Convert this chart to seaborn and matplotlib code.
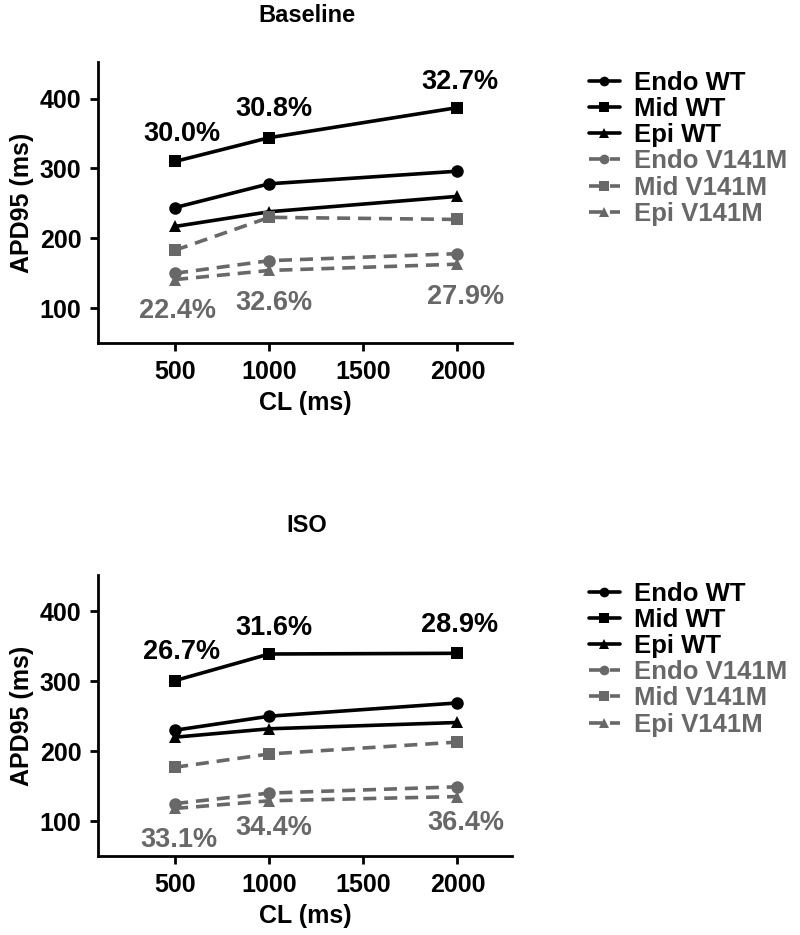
import pandas as pd
import matplotlib
matplotlib.use("Agg")
import matplotlib.pyplot as plt
import seaborn as sns

sns.set_style("ticks", {"axes.edgecolor": "black", "text.color": "black",
                        "axes.labelcolor": "black", "xtick.color": "black",
                        "ytick.color": "black"})
plt.rcParams["font.family"] = ["Liberation Sans", "DejaVu Sans"]
plt.rcParams["font.weight"] = "bold"

# data
cl = [500, 1000, 2000]
groups = ["Endo WT", "Mid WT", "Epi WT", "Endo V141M", "Mid V141M", "Epi V141M"]

base_endo_wt = [244, 278, 296]
base_mid_wt = [310, 344, 387]
base_epi_wt = [217, 238, 260]
base_endo_v = [150, 168, 178]
base_mid_v = [183, 230, 227]
base_epi_v = [141, 154, 163]
base_wt_pct = ["30.0%", "30.8%", "32.7%"]
base_v_pct = ["22.4%", "32.6%", "27.9%"]

iso_endo_wt = [230, 250, 269]
iso_mid_wt = [301, 339, 340]
iso_epi_wt = [220, 232, 241]
iso_endo_v = [125, 140, 149]
iso_mid_v = [177, 196, 213]
iso_epi_v = [118, 129, 135]
iso_wt_pct = ["26.7%", "31.6%", "28.9%"]
iso_v_pct = ["33.1%", "34.4%", "36.4%"]

GRAY = "#686868"
palette = {g: ("black" if "WT" in g else GRAY) for g in groups}
markers = {"Endo WT": "o", "Mid WT": "s", "Epi WT": "^",
           "Endo V141M": "o", "Mid V141M": "s", "Epi V141M": "^"}
dashes = {g: ("" if "WT" in g else (3.6, 2.2)) for g in groups}


def make_df(series):
    rows = []
    for g, vals in zip(groups, series):
        for x, v in zip(cl, vals):
            rows.append({"CL": x, "APD": v, "group": g})
    return pd.DataFrame(rows)


base_df = make_df([base_endo_wt, base_mid_wt, base_epi_wt, base_endo_v, base_mid_v, base_epi_v])
iso_df = make_df([iso_endo_wt, iso_mid_wt, iso_epi_wt, iso_endo_v, iso_mid_v, iso_epi_v])

fig = plt.figure(figsize=(8, 9.35), dpi=100)
ax1 = fig.add_axes([0.1225, 0.633, 0.5175, 0.3005])
ax2 = fig.add_axes([0.1225, 0.0845, 0.5175, 0.3005])

panels = [
    (ax1, base_df, "Baseline", 16, base_wt_pct, base_v_pct,
     [(182, 134), (274, 109), (460, 82)], [(178, 311), (274, 303), (466, 297)], 0.9375),
    (ax2, iso_df, "ISO", 525, iso_wt_pct, iso_v_pct,
     [(182, 652), (274, 628), (460, 625)], [(179, 840), (274, 828), (466, 823)], 0.391),
]

for ax, df, title, title_y, wt_pct, v_pct, wt_pos, v_pos, leg_y in panels:
    sns.lineplot(data=df, x="CL", y="APD", hue="group", style="group",
                 palette=palette, markers=markers, dashes=dashes,
                 hue_order=groups, style_order=groups,
                 markersize=9, linewidth=2.6, markeredgewidth=0, ax=ax)
    ax.set_xlim(90, 2290)
    ax.set_ylim(50, 452)
    ax.set_xticks([500, 1000, 1500, 2000])
    ax.set_yticks([100, 200, 300, 400])
    ax.tick_params(labelsize=18, width=2, length=6, direction="out", pad=6,
                   colors="black")
    for lab in ax.get_xticklabels() + ax.get_yticklabels():
        lab.set_fontweight("bold")
    sns.despine(ax=ax)
    for s in ["left", "bottom"]:
        ax.spines[s].set_linewidth(2)
        ax.spines[s].set_color("black")
    ax.set_xlabel("CL (ms)", fontsize=18, fontweight="bold", labelpad=5, color="black")
    ax.set_ylabel("APD95 (ms)", fontsize=18, fontweight="bold", labelpad=4, color="black")

    fig.text(307 / 800, 1 - title_y / 935, title, ha="center", va="center",
             fontsize=17, fontweight="bold", color="black")

    # percentage annotations (positions in pixels from the top-left)
    for txt, (px, py) in zip(wt_pct, wt_pos):
        fig.text(px / 800, 1 - py / 935, txt, ha="center", va="center",
                 fontsize=19.5, fontweight="bold", color="black")
    for txt, (px, py) in zip(v_pct, v_pos):
        fig.text(px / 800, 1 - py / 935, txt, ha="center", va="center",
                 fontsize=19.5, fontweight="bold", color=GRAY)

    handles, labels = ax.get_legend_handles_labels()
    ax.get_legend().remove()
    for h in handles:
        h.set_markersize(7)
    leg = fig.legend(handles, labels, loc="upper left", bbox_to_anchor=(0.72, leg_y),
                     frameon=False, handlelength=1.2,
                     labelspacing=0.08, handletextpad=0.55, borderpad=0,
                     prop={"weight": "bold", "size": 18.5})
    for t, g in zip(leg.get_texts(), labels):
        t.set_color(palette[g])

fig.savefig("out.png", dpi=100, facecolor="white")
